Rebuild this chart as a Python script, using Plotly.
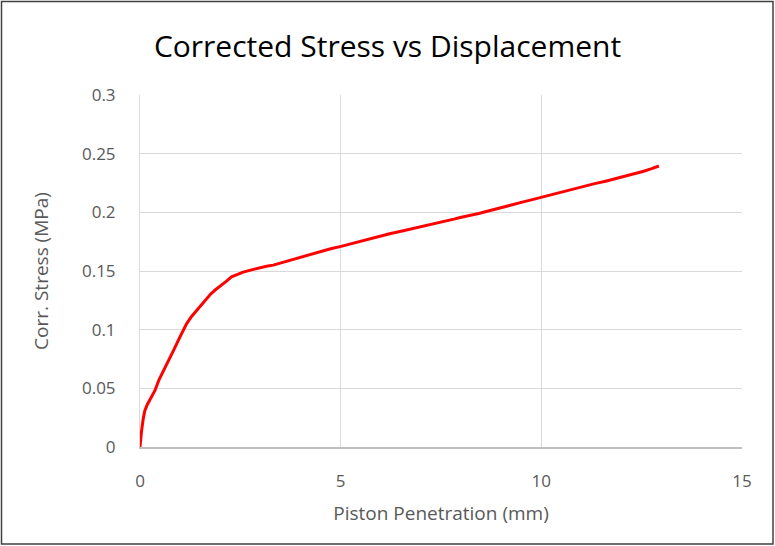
import plotly.graph_objects as go

penetration_mm = [0.0, 0.02, 0.04, 0.08, 0.12, 0.18, 0.25, 0.37, 0.47, 0.58, 0.7, 0.83, 1.0, 1.16,
                  1.28, 1.41, 1.58, 1.75, 1.88, 2.0, 2.14, 2.28, 2.42, 2.57, 2.78, 2.99, 3.15, 3.32,
                  3.52, 3.74, 3.99, 4.25, 4.5, 4.75, 5.01, 5.25, 5.5, 5.75, 5.99, 6.22, 6.45, 6.68,
                  6.9, 7.1, 7.3, 7.48, 7.65, 7.82, 7.98, 8.2, 8.44, 8.7, 8.98, 9.25, 9.5, 9.75,
                  10.02, 10.28, 10.55, 10.8, 11.06, 11.33, 11.6, 11.87, 12.14, 12.35, 12.55, 12.75,
                  12.93]
corr_stress_mpa = [0.0, 0.008, 0.014, 0.024, 0.031, 0.036, 0.040, 0.048, 0.057, 0.065, 0.073, 0.082,
                   0.094, 0.105, 0.111, 0.116, 0.123, 0.130, 0.134, 0.137, 0.141, 0.145, 0.147,
                   0.149, 0.151, 0.153, 0.154, 0.155, 0.157, 0.159, 0.162, 0.164, 0.1665, 0.169,
                   0.171, 0.1732, 0.1755, 0.1778, 0.180, 0.1818, 0.1835, 0.1852, 0.187, 0.1885,
                   0.190, 0.1916, 0.193, 0.1942, 0.1956, 0.197, 0.199, 0.2013, 0.204, 0.2062,
                   0.2085, 0.2106, 0.213, 0.2152, 0.2175, 0.2198, 0.2225, 0.2245, 0.2265, 0.2288,
                   0.231, 0.233, 0.235, 0.2372, 0.2395]

x_ticks = [0, 5, 10, 15]
y_ticks = [0, 0.05, 0.1, 0.15, 0.2, 0.25, 0.3]
y_tick_labels = ["0", "0.05", "0.1", "0.15", "0.2", "0.25", "0.3"]

W, H = 775, 546
L, R, T, B = 140, 33, 95, 99
pw, ph = W - L - R, H - T - B

fig = go.Figure()
fig.add_trace(go.Scatter(x=penetration_mm, y=corr_stress_mpa, mode="lines",
                         line=dict(color="#ff0000", width=3), showlegend=False,
                         hoverinfo="x+y"))

font_family = "Open Sans, sans-serif"
fig.update_layout(
    width=W, height=H,
    margin=dict(l=L, r=R, t=T, b=B),
    paper_bgcolor="white", plot_bgcolor="white",
    title=dict(text="Corrected Stress vs Displacement", x=0.5, xanchor="center",
               y=1 - 46 / H, yanchor="middle",
               font=dict(family=font_family, size=30, color="#000000")),
    xaxis=dict(range=[0, 15], tickvals=x_ticks, showgrid=True, gridcolor="#d9d9d9",
               gridwidth=1, zeroline=False, showline=True, linecolor="#bfbfbf", linewidth=1.5,
               ticks="", ticklabelstandoff=18,
               tickfont=dict(family=font_family, size=17, color="#595959"),
               title=dict(text="Piston Penetration (mm)", standoff=16,
                          font=dict(family=font_family, size=19, color="#595959"))),
    yaxis=dict(range=[0, 0.3], tickvals=y_ticks, ticktext=y_tick_labels, showgrid=True,
               gridcolor="#d9d9d9", gridwidth=1, zeroline=False, showline=True,
               linecolor="#d9d9d9", linewidth=1, ticks="", ticklabelstandoff=20,
               tickfont=dict(family=font_family, size=17, color="#595959"),
               title=dict(text="Corr. Stress (MPa)", standoff=28,
                          font=dict(family=font_family, size=19, color="#595959"))),
)

fig.add_shape(type="rect", xref="paper", yref="paper",
              x0=(1.5 - L) / pw, x1=(W - 2 - L) / pw,
              y0=(H - B - (H - 2)) / ph, y1=(H - B - 1.5) / ph,
              line=dict(color="#404040", width=1.5), fillcolor="rgba(0,0,0,0)", layer="below")

fig.write_html("out.html", config={"displayModeBar": False},
               post_script="document.body.style.margin='0';document.body.style.overflow='hidden';")
